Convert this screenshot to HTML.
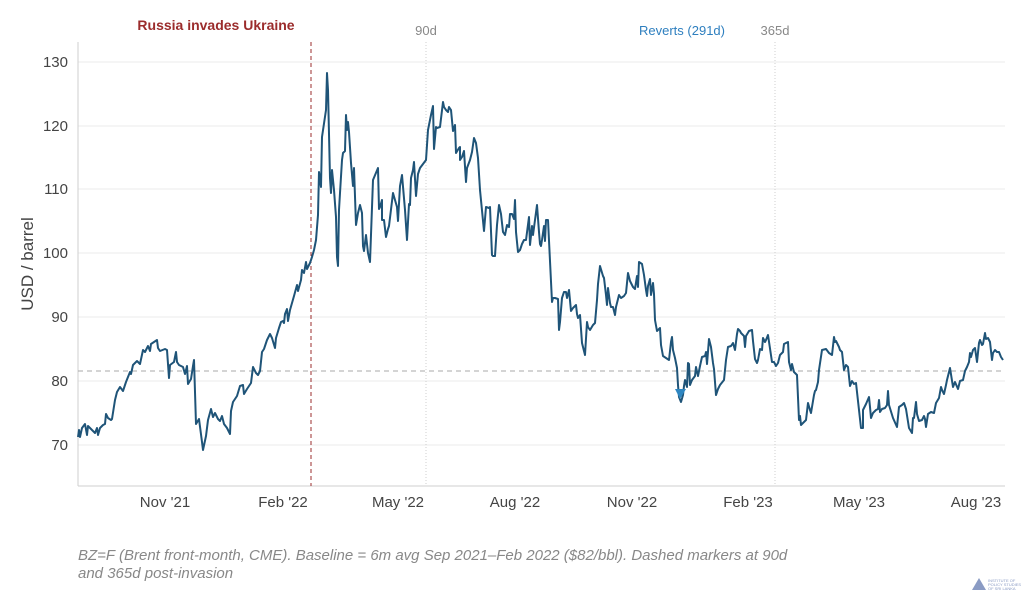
<!DOCTYPE html>
<html><head><meta charset="utf-8"><style>
html,body{margin:0;padding:0;background:#fff;width:1024px;height:600px;overflow:hidden}
svg{display:block;font-family:"Liberation Sans",sans-serif}
</style></head><body>
<svg width="1024" height="600" viewBox="0 0 1024 600">
<g stroke="#ebebeb" stroke-width="1">
<line x1="78" x2="1005" y1="445" y2="445"/><line x1="78" x2="1005" y1="381" y2="381"/>
<line x1="78" x2="1005" y1="317" y2="317"/><line x1="78" x2="1005" y1="253" y2="253"/>
<line x1="78" x2="1005" y1="189" y2="189"/><line x1="78" x2="1005" y1="126" y2="126"/>
<line x1="78" x2="1005" y1="62" y2="62"/>
</g>
<line x1="78" x2="78" y1="42" y2="486" stroke="#cfcfcf"/>
<line x1="78" x2="1005" y1="486" y2="486" stroke="#cfcfcf"/>
<line x1="78" x2="1005" y1="371" y2="371" stroke="#aaa" stroke-dasharray="5,4"/>
<line x1="426" x2="426" y1="42" y2="486" stroke="#cfcfcf" stroke-dasharray="1,2"/>
<line x1="775" x2="775" y1="42" y2="486" stroke="#cfcfcf" stroke-dasharray="1,2"/>
<line x1="311" x2="311" y1="42" y2="486" stroke="#9b2c2c" stroke-dasharray="4,3"/>
<g font-size="15" fill="#444" text-anchor="end">
<text x="68" y="450">70</text><text x="68" y="386">80</text><text x="68" y="322">90</text>
<text x="68" y="258">100</text><text x="68" y="194">110</text><text x="68" y="131">120</text><text x="68" y="67">130</text>
</g>
<g font-size="15" fill="#444" text-anchor="middle">
<text x="165" y="507">Nov '21</text><text x="283" y="507">Feb '22</text><text x="398" y="507">May '22</text>
<text x="515" y="507">Aug '22</text><text x="632" y="507">Nov '22</text><text x="748" y="507">Feb '23</text>
<text x="859" y="507">May '23</text><text x="976" y="507">Aug '23</text>
</g>
<text transform="translate(33,264) rotate(-90)" font-size="17" fill="#444" text-anchor="middle">USD / barrel</text>
<text x="216" y="30" font-size="14" font-weight="bold" fill="#9b2c2c" text-anchor="middle">Russia invades Ukraine</text>
<text x="426" y="35" font-size="13" fill="#888" text-anchor="middle">90d</text>
<text x="682" y="35" font-size="13" fill="#2e7fbf" text-anchor="middle">Reverts (291d)</text>
<text x="775" y="35" font-size="13" fill="#888" text-anchor="middle">365d</text>
<polyline fill="none" stroke="#1f5478" stroke-width="2" stroke-linejoin="round" points="
78,437 79,430 80,437 82,428 85,424 87,435 88,426 92,430 95,433 97,428 98,435 100,428 103,425 105,424 106,414 108,418 111,420 112,419 115,400 117,392 120,387 123,391 126,382 130,372 131,374 133,365 137,361 140,364 143,350 145,352 148,346 150,351 151,344 157,340 158,348 160,351 165,349 167,350 169,378 170,365 174,362 176,352 177,362 179,365 183,367 185,374 187,366 188,384 191,379 193,366 194,360 196,424 199,419 202,442 203,450 206,436 208,420 211,409 213,417 215,413 218,419 220,421 222,416 224,424 227,428 230,434 231,411 233,402 237,396 240,386 243,385 244,394 247,389 251,383 253,367 256,373 258,375 260,371 262,352 264,349 267,340 270,334 272,338 275,348 276,338 279,328 281,322 283,321 284,323 285,314 287,309 288,321 290,310 294,296 297,285 298,291 301,280 302,270 304,273 306,262 307,269 310,263 312,257 314,250 316,240 318,215 319,172 321,187 322,137 326,110 327,73 328,90 330,178 331,193 332,170 334,190 336,217 337,257 338,266 339,210 340,193 342,160 343,153 345,151 346,115 347,130 348,122 349,132 351,163 353,186 354,168 356,225 358,213 360,205 362,213 363,246 364,251 366,235 368,253 370,262 373,180 378,168 379,209 380,207 382,200 382,220 384,220 386,237 388,229 389,226 393,193 395,200 397,207 398,221 400,186 402,175 405,210 407,240 409,204 410,205 411,178 413,170 414,162 416,196 418,174 420,168 426,160 428,130 431,115 433,106 434,149 436,127 437,128 440,127 443,102 444,107 446,110 448,112 449,107 451,110 453,131 455,125 456,153 459,148 460,147 460,160 462,157 464,151 466,182 467,168 470,160 472,152 474,138 476,143 478,158 480,190 484,231 486,207 489,208 490,207 492,255 493,256 495,256 497,225 499,205 501,214 503,232 505,235 507,225 509,227 510,214 512,214 514,219 515,200 516,232 518,252 520,250 522,244 524,240 526,240 529,217 530,245 532,226 533,235 535,220 537,205 539,232 540,244 541,246 542,240 544,226 545,241 546,220 548,220 552,302 553,298 555,298 558,299 559,330 560,322 562,298 564,292 566,292 567,298 569,290 571,311 573,308 576,305 577,314 578,318 580,315 582,343 583,347 585,355 587,322 588,327 590,330 593,325 595,323 597,300 598,284 600,266 603,276 604,278 606,295 607,305 608,288 610,303 611,307 613,307 615,315 616,307 619,295 621,298 624,296 626,293 628,273 630,281 633,287 635,289 637,276 638,287 639,262 642,264 644,275 646,290 647,296 648,286 650,279 651,295 653,283 654,294 655,320 657,331 660,328 661,345 663,356 666,358 669,360 671,342 672,337 673,350 675,358 677,368 678,385 679,397 681,402 683,395 684,386 685,380 687,387 688,363 689,364 690,385 692,380 695,376 696,367 698,376 700,366 702,357 705,356 706,352 707,364 709,339 711,347 713,363 714,369 716,395 718,389 720,385 724,380 726,360 728,347 731,346 733,343 735,350 737,334 738,329 740,331 741,333 744,336 745,347 746,336 749,331 752,330 753,341 755,359 757,363 758,360 760,349 762,350 763,338 765,342 766,340 768,335 772,362 774,362 776,366 778,363 780,355 783,352 784,344 788,342 789,362 791,370 792,364 794,372 797,375 799,420 800,416 801,425 804,422 806,420 808,403 810,410 811,413 814,395 815,391 816,390 818,382 819,370 822,350 826,349 829,353 832,355 834,337 835,342 836,341 839,347 840,350 842,352 844,370 846,365 848,367 850,386 852,381 854,384 856,383 861,428 863,428 863,410 866,404 869,397 870,407 871,418 873,413 876,410 878,409 879,400 880,412 882,409 885,408 887,405 888,391 889,405 893,418 897,427 899,407 902,405 904,403 906,409 909,428 912,433 913,418 914,418 916,402 917,414 919,421 922,420 924,416 925,419 926,427 928,414 931,412 934,413 936,403 939,398 941,387 942,390 944,394 946,385 947,380 950,368 953,387 955,382 958,389 960,381 963,380 965,371 967,367 969,362 970,353 971,357 973,350 975,348 977,362 979,343 980,340 982,345 983,344 985,333 986,339 988,338 990,342 992,360 993,353 995,350 997,352 999,352 1001,357 1003,360"/>
<polygon points="675,389 686,389 680,399" fill="#2e86c1"/>
<g font-size="15" fill="#888" font-style="italic">
<text x="78" y="560">BZ=F (Brent front-month, CME).  Baseline = 6m avg Sep 2021–Feb 2022 ($82/bbl).  Dashed markers at 90d</text>
<text x="78" y="578">and 365d post-invasion</text>
</g>
<polygon points="972,590 979,578 986,590" fill="#8a9bc4"/>
<g font-size="4" fill="#8a9bc4"><text x="988" y="582">INSTITUTE OF</text><text x="988" y="586">POLICY STUDIES</text><text x="988" y="590">OF SRI LANKA</text></g>
</svg>
</body></html>
